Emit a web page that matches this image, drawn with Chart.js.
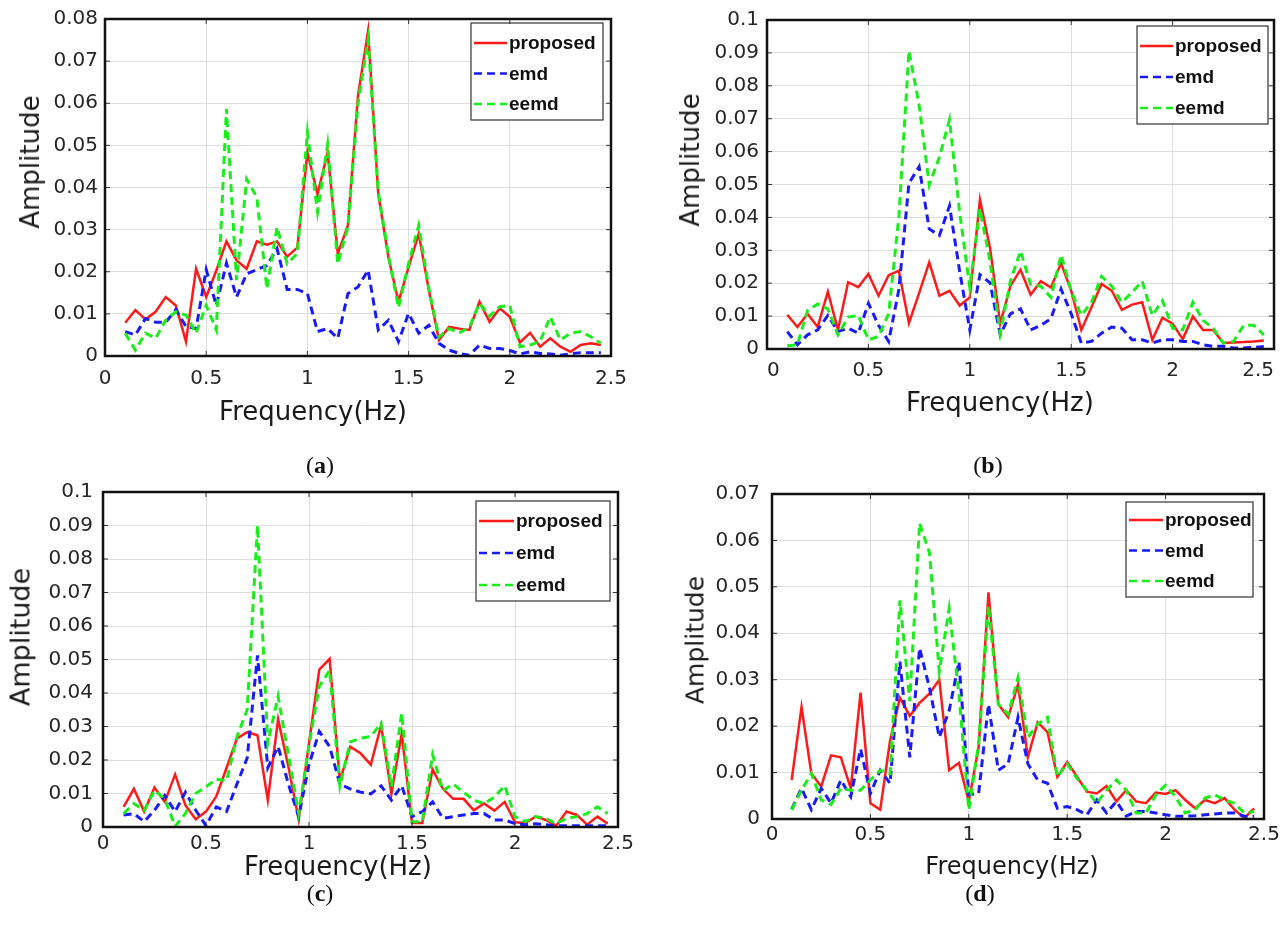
<!DOCTYPE html>
<html>
<head>
<meta charset="utf-8">
<script src="https://cdn.jsdelivr.net/npm/chart.js@4.4.1/dist/chart.umd.min.js"></script>
<style>
  body { margin: 0; background: #fff; }
  #page { position: relative; width: 1284px; height: 933px; overflow: hidden; }
  .panel { position: absolute; }
  .lbl { position: absolute; transform: translate(-50%, -50%); white-space: nowrap;
         font-family: "DejaVu Sans", sans-serif; color: #1a1a1a; }
  .ylbl { transform: translate(-50%, -50%) rotate(-90deg); }
  .cap { position: absolute; transform: translate(-50%, -50%); font-family: "Liberation Serif", serif;
         font-size: 24px; color: #111; }
</style>
</head>
<body>
<div id="page">
  <div class="panel" style="left:0;top:0;width:640px;height:400px"><canvas id="chartA"></canvas></div>
  <div class="panel" style="left:660px;top:0;width:624px;height:400px"><canvas id="chartB"></canvas></div>
  <div class="panel" style="left:0;top:470px;width:640px;height:400px"><canvas id="chartC"></canvas></div>
  <div class="panel" style="left:660px;top:470px;width:624px;height:400px"><canvas id="chartD"></canvas></div>

  <div class="lbl ylbl" style="left:30px;top:162px;font-size:26px">Amplitude</div>
  <div class="lbl" style="left:313px;top:411px;font-size:26px">Frequency(Hz)</div>
  <div class="cap" style="left:320px;top:465px">(<b>a</b>)</div>

  <div class="lbl ylbl" style="left:690px;top:160px;font-size:26px">Amplitude</div>
  <div class="lbl" style="left:1000px;top:402px;font-size:26px">Frequency(Hz)</div>
  <div class="cap" style="left:988px;top:465px">(<b>b</b>)</div>

  <div class="lbl ylbl" style="left:20px;top:637px;font-size:27px">Amplitude</div>
  <div class="lbl" style="left:338px;top:866px;font-size:26px">Frequency(Hz)</div>
  <div class="cap" style="left:320px;top:893px">(<b>c</b>)</div>

  <div class="lbl ylbl" style="left:695px;top:640px;font-size:25px">Amplitude</div>
  <div class="lbl" style="left:1012px;top:866px;font-size:24px">Frequency(Hz)</div>
  <div class="cap" style="left:980px;top:893px">(<b>d</b>)</div>
</div>

<script>
// frequency bins (Hz), shared by all four panels
const freq = [0.1, 0.15, 0.2, 0.25, 0.3, 0.35, 0.4, 0.45, 0.5, 0.55, 0.6, 0.65, 0.7, 0.75, 0.8, 0.85,
  0.9, 0.95, 1.0, 1.05, 1.1, 1.15, 1.2, 1.25, 1.3, 1.35, 1.4, 1.45, 1.5, 1.55, 1.6, 1.65,
  1.7, 1.75, 1.8, 1.85, 1.9, 1.95, 2.0, 2.05, 2.1, 2.15, 2.2, 2.25, 2.3, 2.35, 2.4, 2.45];

const seriesNames = ["proposed", "emd", "eemd"];
const xTicks = [0, 0.5, 1, 1.5, 2, 2.5];

// (a)
const aProposed = [0.0079, 0.0109, 0.0087, 0.0105, 0.014, 0.012, 0.0034, 0.0207, 0.014, 0.0203,
  0.0272, 0.0227, 0.0207, 0.0272, 0.0264, 0.0272, 0.0236, 0.0257, 0.0483, 0.0384,
  0.0483, 0.0243, 0.031, 0.0618, 0.0772, 0.0385, 0.0235, 0.0129, 0.0211, 0.029,
  0.0156, 0.0038, 0.0069, 0.0065, 0.0062, 0.0129, 0.0081, 0.0113, 0.0093, 0.0032,
  0.0055, 0.0022, 0.0042, 0.0022, 0.001, 0.0026, 0.003, 0.0026];
const aEmd = [0.0058, 0.005, 0.0089, 0.008, 0.008, 0.011, 0.007, 0.0065, 0.0205, 0.012,
  0.022, 0.014, 0.0195, 0.0205, 0.0215, 0.0255, 0.0158, 0.0158, 0.0148, 0.0058,
  0.0065, 0.0042, 0.0148, 0.0164, 0.0204, 0.0062, 0.0085, 0.0034, 0.0101, 0.0054,
  0.0073, 0.003, 0.0014, 0.0006, 0.0002, 0.0026, 0.0018, 0.0018, 0.0013, 0.0005,
  0.001, 0.0006, 0.0005, 0.0002, 0.0005, 0.0008, 0.0008, 0.0008];
const aEemd = [0.0054, 0.0014, 0.0054, 0.0042, 0.0085, 0.0105, 0.0097, 0.0054, 0.012, 0.0062,
  0.0586, 0.018, 0.042, 0.0377, 0.016, 0.0306, 0.0219, 0.0243, 0.0531, 0.0342,
  0.0503, 0.0219, 0.0306, 0.06, 0.075, 0.039, 0.024, 0.0115, 0.022, 0.031,
  0.016, 0.0045, 0.0065, 0.0055, 0.0068, 0.0125, 0.0095, 0.0117, 0.012, 0.0022,
  0.0026, 0.0035, 0.0093, 0.0038, 0.0054, 0.0058, 0.0046, 0.003];

// (b)
const bProposed = [0.0104, 0.0067, 0.0107, 0.0067, 0.0174, 0.0058, 0.0203, 0.0188, 0.0228, 0.0162,
  0.0224, 0.0238, 0.0079, 0.017, 0.0263, 0.0162, 0.0177, 0.0132, 0.0157, 0.0454,
  0.0306, 0.0077, 0.0191, 0.0241, 0.0165, 0.0206, 0.0187, 0.0261, 0.0177, 0.0058,
  0.0127, 0.0198, 0.0177, 0.0119, 0.0135, 0.0142, 0.0028, 0.0095, 0.0077, 0.003,
  0.0099, 0.0058, 0.0058, 0.0018, 0.002, 0.0021, 0.0023, 0.0026];
const bEmd = [0.0053, 0.0013, 0.0043, 0.0058, 0.0102, 0.0053, 0.0063, 0.0048, 0.0139, 0.0072,
  0.0023, 0.018, 0.0504, 0.0554, 0.0365, 0.0345, 0.0435, 0.0236, 0.0058, 0.0226,
  0.0201, 0.0043, 0.0107, 0.0122, 0.0058, 0.0072, 0.0092, 0.0182, 0.0107, 0.0018,
  0.0023, 0.0048, 0.0067, 0.0063, 0.0028, 0.0028, 0.0018, 0.0028, 0.0028, 0.0023,
  0.0023, 0.0013, 0.0008, 0.0008, 0.0003, 0.0003, 0.0005, 0.0008];
const bEemd = [0.001, 0.0013, 0.0117, 0.0137, 0.0122, 0.0043, 0.0097, 0.0102, 0.0028, 0.0038,
  0.0107, 0.04, 0.0906, 0.0742, 0.0499, 0.0583, 0.0697, 0.0415, 0.0187, 0.0425,
  0.0266, 0.0048, 0.0206, 0.0298, 0.0196, 0.0191, 0.0157, 0.0286, 0.0177, 0.0102,
  0.0142, 0.0221, 0.0191, 0.0142, 0.0172, 0.0206, 0.0102, 0.0147, 0.0063, 0.0058,
  0.0142, 0.0087, 0.0063, 0.0018, 0.0023, 0.0072, 0.0072, 0.0043];

// (c)
const cProposed = [0.006, 0.0114, 0.0046, 0.0118, 0.0075, 0.0157, 0.0065, 0.0023, 0.0046, 0.0091,
  0.0177, 0.0264, 0.0283, 0.0274, 0.008, 0.0322, 0.018, 0.0023, 0.025, 0.047,
  0.0502, 0.0138, 0.024, 0.022, 0.0186, 0.0303, 0.0099, 0.0279, 0.0012, 0.0012,
  0.0172, 0.0114, 0.0084, 0.0084, 0.005, 0.007, 0.0049, 0.0075, 0.0014, 0.0012,
  0.0031, 0.0021, 0.0004, 0.0046, 0.0036, 0.0007, 0.0031, 0.001];
const cEmd = [0.0036, 0.004, 0.0016, 0.005, 0.0094, 0.0046, 0.0104, 0.005, 0.0004, 0.006,
  0.0046, 0.0128, 0.0206, 0.0512, 0.0177, 0.024, 0.0128, 0.0031, 0.0186, 0.0285,
  0.024, 0.0128, 0.0114, 0.0104, 0.0099, 0.0123, 0.008, 0.0123, 0.0031, 0.0046,
  0.0075, 0.0026, 0.0031, 0.0036, 0.004, 0.004, 0.0021, 0.0021, 0.001, 0.0007,
  0.001, 0.0007, 0.0004, 0.0004, 0.0004, 0.0004, 0.0004, 0.0004];
const cEemd = [0.004, 0.007, 0.005, 0.0109, 0.0084, 0.0002, 0.004, 0.01, 0.012, 0.0143,
  0.0138, 0.0269, 0.035, 0.09, 0.025, 0.039, 0.0215, 0.004, 0.0245, 0.042,
  0.0468, 0.0123, 0.0254, 0.0265, 0.027, 0.031, 0.012, 0.034, 0.0016, 0.0016,
  0.0216, 0.0109, 0.0128, 0.0104, 0.008, 0.007, 0.0089, 0.0123, 0.0031, 0.0016,
  0.0031, 0.0026, 0.001, 0.0026, 0.0031, 0.004, 0.006, 0.004];

// (d)
const dProposed = [0.0084, 0.0241, 0.0098, 0.007, 0.0137, 0.0133, 0.0066, 0.0272, 0.0034, 0.002,
  0.0169, 0.0261, 0.0222, 0.025, 0.027, 0.03, 0.0105, 0.0121, 0.0038, 0.0155,
  0.0488, 0.0247, 0.0219, 0.029, 0.0133, 0.0208, 0.0187, 0.0091, 0.0123, 0.0091,
  0.0059, 0.0055, 0.0071, 0.0038, 0.0062, 0.0038, 0.0034, 0.0057, 0.0054, 0.0062,
  0.0041, 0.0023, 0.0041, 0.0034, 0.0045, 0.002, 0.0002, 0.0023];
const dEmd = [0.0021, 0.0066, 0.002, 0.0066, 0.0034, 0.0084, 0.0048, 0.0151, 0.0055, 0.0105,
  0.0077, 0.0339, 0.0133, 0.0368, 0.0283, 0.0176, 0.0233, 0.0339, 0.0052, 0.0055,
  0.0247, 0.0105, 0.0119, 0.0219, 0.0119, 0.0084, 0.0077, 0.0023, 0.0027, 0.002,
  0.0009, 0.0041, 0.0013, 0.0038, 0.0006, 0.0016, 0.0016, 0.0013, 0.0009, 0.0006,
  0.0006, 0.0007, 0.0009, 0.0011, 0.0013, 0.0013, 0.0006, 0.0006];
const dEemd = [0.002, 0.0062, 0.0098, 0.0041, 0.0031, 0.0066, 0.0062, 0.0062, 0.0084, 0.0105,
  0.0098, 0.0471, 0.0254, 0.0637, 0.0574, 0.0318, 0.0453, 0.0268, 0.002, 0.0162,
  0.046, 0.0247, 0.0226, 0.0304, 0.0176, 0.0204, 0.0219, 0.0091, 0.0119, 0.0087,
  0.0062, 0.0034, 0.0062, 0.0084, 0.0062, 0.0013, 0.0013, 0.0052, 0.0073, 0.0048,
  0.0013, 0.002, 0.0045, 0.0052, 0.0041, 0.0034, 0.0013, 0.0016];

Chart.defaults.font.family = "DejaVu Sans";
Chart.defaults.color = "#262626";

// legend box drawn inside the plot area, top right
const boxLegend = {
  id: "boxLegend",
  afterDatasetsDraw(chart, args, opts) {
    const { ctx, chartArea } = chart;
    const x = chartArea.right - opts.right - opts.width;
    const y = chartArea.top + opts.top;
    ctx.save();
    ctx.fillStyle = "#fff";
    ctx.fillRect(x, y, opts.width, opts.height);
    ctx.strokeStyle = "#333";
    ctx.lineWidth = 1.2;
    ctx.strokeRect(x, y, opts.width, opts.height);
    ctx.font = "bold 19px 'Liberation Sans'";
    ctx.textBaseline = "middle";
    chart.data.datasets.forEach((ds, i) => {
      const cy = y + opts.firstRow + i * opts.rowGap;
      ctx.strokeStyle = ds.borderColor;
      ctx.lineWidth = 2.5;
      ctx.setLineDash(ds.borderDash || []);
      ctx.beginPath();
      ctx.moveTo(x + 3, cy);
      ctx.lineTo(x + 3 + opts.sample, cy);
      ctx.stroke();
      ctx.setLineDash([]);
      ctx.fillStyle = "#111";
      ctx.fillText(ds.label, x + 5 + opts.sample, cy + 1);
    });
    ctx.restore();
  },
};

// black box round the axes with small inward ticks (matlab style)
const axesFrame = {
  id: "axesFrame",
  afterDraw(chart) {
    const { ctx, chartArea: a, scales } = chart;
    ctx.save();
    ctx.strokeStyle = "#333";
    ctx.lineWidth = 1;
    ctx.beginPath();
    scales.x.ticks.forEach((t) => {
      const px = scales.x.getPixelForValue(t.value);
      ctx.moveTo(px, a.top); ctx.lineTo(px, a.top + 5);
      ctx.moveTo(px, a.bottom); ctx.lineTo(px, a.bottom - 5);
    });
    scales.y.ticks.forEach((t) => {
      const py = scales.y.getPixelForValue(t.value);
      ctx.moveTo(a.left, py); ctx.lineTo(a.left + 5, py);
      ctx.moveTo(a.right, py); ctx.lineTo(a.right - 5, py);
    });
    ctx.stroke();
    ctx.strokeStyle = "#111";
    ctx.lineWidth = 2.5;
    ctx.strokeRect(a.left, a.top, a.right - a.left, a.bottom - a.top);
    ctx.restore();
  },
};

function toPoints(values) {
  return freq.map((f, i) => ({ x: f, y: values[i] }));
}

function makePanel(id, series, yMax, box) {
  const datasets = [
    { label: seriesNames[0], data: toPoints(series[0]), borderColor: "#ff1a1a", borderWidth: 2.5, order: 2 },
    { label: seriesNames[1], data: toPoints(series[1]), borderColor: "#1a1aff", borderWidth: 3, borderDash: [8, 5], order: 1 },
    { label: seriesNames[2], data: toPoints(series[2]), borderColor: "#1aee1a", borderWidth: 3, borderDash: [8, 5], order: 0 },
  ];
  datasets.forEach((d) => { d.pointRadius = 0; d.tension = 0; d.fill = false; });

  return new Chart(document.getElementById(id), {
    type: "line",
    data: { datasets: datasets },
    options: {
      responsive: true,
      maintainAspectRatio: false,
      animation: false,
      layout: { autoPadding: false, padding: { top: box.top, right: box.right, left: 0, bottom: 0 } },
      plugins: {
        legend: { display: false },
        tooltip: { enabled: false },
        boxLegend: box.legend,
      },
      scales: {
        x: {
          type: "linear",
          min: 0,
          max: 2.5,
          afterBuildTicks: (s) => { s.ticks = xTicks.map((v) => ({ value: v })); },
          afterFit: (s) => { s.height = box.xHeight; },
          border: { display: false },
          grid: { color: "#dedede", drawTicks: false },
          ticks: {
            font: { size: 20 },
            padding: box.xPad,
            align: box.xAlign || "center",
            maxRotation: 0,
            callback: (v) => String(v),
          },
        },
        y: {
          min: 0,
          max: yMax,
          afterFit: (s) => { s.width = box.yWidth; },
          border: { display: false },
          grid: { color: "#dedede", drawTicks: false },
          ticks: {
            stepSize: 0.01,
            font: { size: 20 },
            padding: box.yPad,
            callback: (v) => String(Number(v.toFixed(3))),
          },
        },
      },
    },
    plugins: [boxLegend, axesFrame],
  });
}

makePanel("chartA", [aProposed, aEmd, aEemd], 0.08, {
  top: 19, right: 29, yWidth: 105, xHeight: 44, xPad: 11, yPad: 7,
  legend: { right: 8, top: 4, width: 132, height: 97, firstRow: 20, rowGap: 30.5, sample: 33 },
});
makePanel("chartB", [bProposed, bEmd, bEemd], 0.1, {
  top: 12, right: 9, yWidth: 107, xHeight: 51, xPad: 10, yPad: 8, xAlign: "inner",
  legend: { right: 6, top: 6, width: 131, height: 98, firstRow: 20, rowGap: 31, sample: 33 },
});
makePanel("chartC", [cProposed, cEmd, cEemd], 0.1, {
  top: 14, right: 22, yWidth: 103, xHeight: 43, xPad: 5, yPad: 10,
  legend: { right: 8, top: 9, width: 134, height: 100, firstRow: 20, rowGap: 32, sample: 35 },
});
makePanel("chartD", [dProposed, dEmd, dEemd], 0.07, {
  top: 21, right: 20, yWidth: 112, xHeight: 51, xPad: 4, yPad: 12,
  legend: { right: 11, top: 8, width: 127, height: 95, firstRow: 18, rowGap: 30.5, sample: 34 },
});
</script>
</body>
</html>
